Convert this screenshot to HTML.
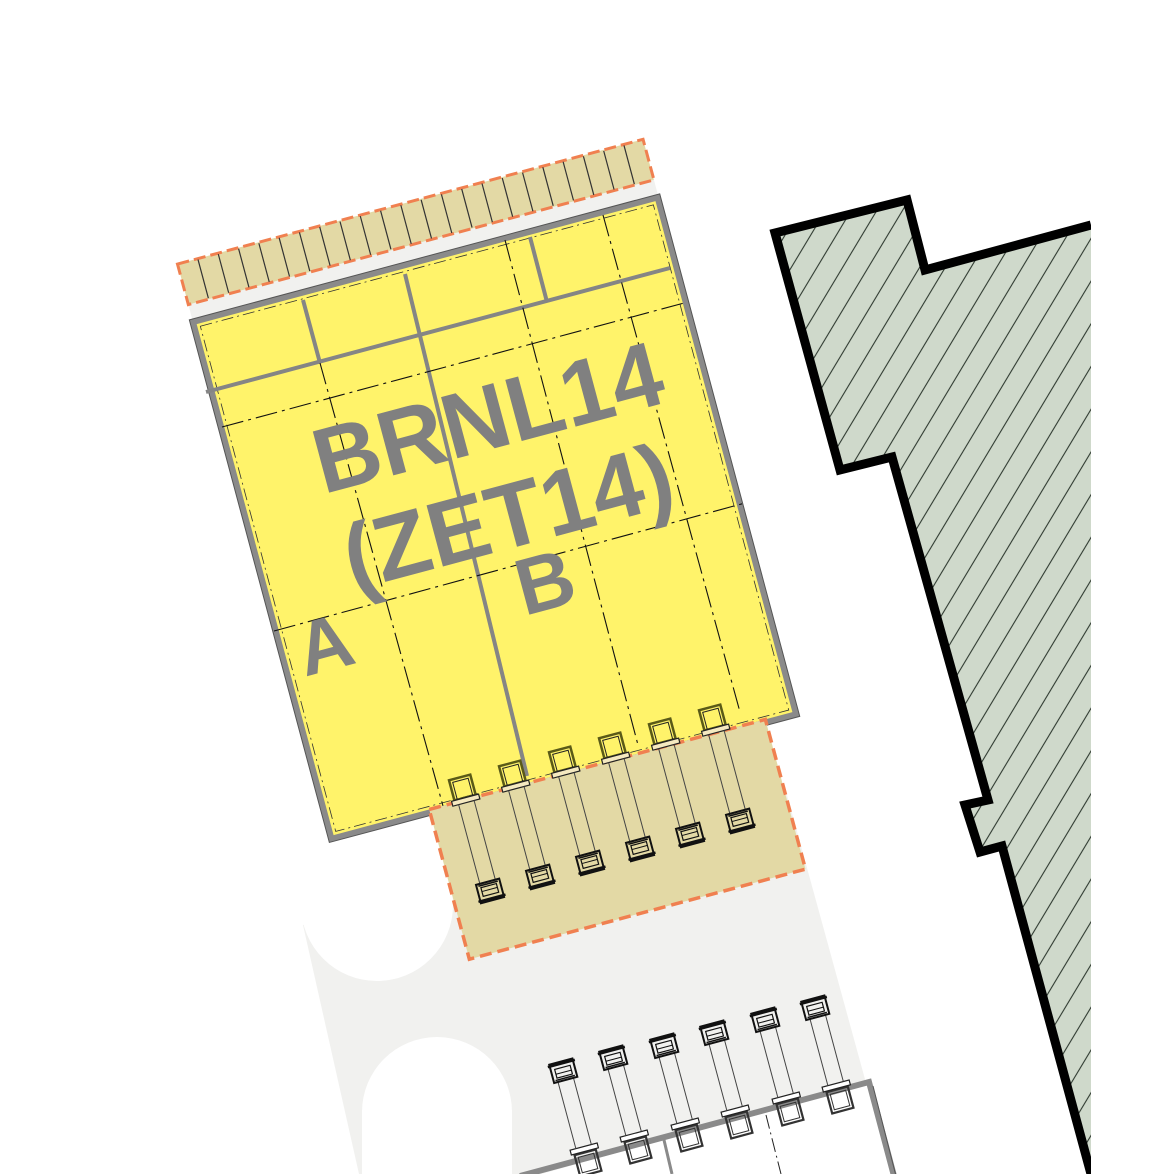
<!DOCTYPE html>
<html><head><meta charset="utf-8"><style>
html,body{margin:0;padding:0;background:#fff;}
svg{display:block;}
</style></head><body>
<svg width="1165" height="1174" viewBox="0 0 1165 1174" xmlns="http://www.w3.org/2000/svg">
<defs>
<pattern id="hatch" patternUnits="userSpaceOnUse" width="22" height="22" patternTransform="rotate(31)">
<rect width="22" height="22" fill="#cfd9cb"/>
<line x1="2" y1="0" x2="2" y2="22" stroke="#2f3a30" stroke-width="1.1"/>
</pattern>
<g id="cab" fill="none" stroke="#111">
<rect x="-12" y="0" width="24" height="19" stroke-width="2"/>
<rect x="-8" y="4" width="16" height="9" stroke-width="1.2"/>
<line x1="-8" y1="8" x2="8" y2="8" stroke-width="1"/>
<line x1="-14" y1="17" x2="14" y2="17" stroke-width="2.5"/>
<line x1="-10" y1="2" x2="10" y2="2" stroke-width="1.5"/>
</g>
<g id="utruck" fill="none" stroke="#2a2a10">
<rect x="-11" y="-13" width="22" height="21" stroke="#5a5a18" stroke-width="2.5"/>
<rect x="-8" y="-10" width="16" height="18" stroke="#222" stroke-width="1"/>
<rect x="-14" y="8" width="28" height="5" fill="#f5e9c0" stroke="#222" stroke-width="1.2"/>
<line x1="-8" y1="13" x2="-8" y2="96" stroke="#444" stroke-width="1"/>
<line x1="8" y1="13" x2="8" y2="96" stroke="#444" stroke-width="1"/>
<use href="#cab" transform="translate(0,95)"/>
</g>
<g id="ltruck" fill="none" stroke="#222">
<rect x="-11" y="-11" width="22" height="22" stroke="#333" stroke-width="2.2"/>
<rect x="-8" y="-8" width="16" height="16" stroke="#333" stroke-width="1"/>
<rect x="-14" y="-17" width="28" height="5" fill="#fff" stroke="#222" stroke-width="1.2"/>
<line x1="-8" y1="-17" x2="-8" y2="-86" stroke="#444" stroke-width="1"/>
<line x1="8" y1="-17" x2="8" y2="-86" stroke="#444" stroke-width="1"/>
<use href="#cab" transform="translate(0,-86) rotate(180)"/>
</g>
</defs>

<polygon points="303,925 787,795 891,1174 359,1174" fill="#f1f1ef"/>
<circle cx="377" cy="905" r="76" fill="#fff"/>
<circle cx="437" cy="1112" r="75" fill="#fff"/>
<rect x="362" y="1110" width="150" height="70" fill="#fff"/>

<polygon points="520,1180 869,1082 896,1180" fill="#fff"/>
<polyline points="520,1176 869,1082 894,1176" fill="none" stroke="#8a8a8a" stroke-width="6"/>
<polyline points="873,1086 896,1176" fill="none" stroke="#555" stroke-width="1"/>
<line x1="664" y1="1140" x2="672" y2="1174" stroke="#8a8a8a" stroke-width="3"/>
<line x1="766" y1="1115" x2="781" y2="1174" stroke="#222" stroke-width="1" stroke-dasharray="14,4,2,4"/>

<path d="M1091,1174 L1002,846 L980,852 L965,805 L988,800 L892,457 L840,470 L775,233 L907,200 L925,270 L1091,225" fill="url(#hatch)" stroke="#000" stroke-width="9" stroke-linejoin="miter"/>
<rect x="1091" y="150" width="80" height="1030" fill="#fff"/>

<g transform="translate(193,322) rotate(-15)">
<rect x="0" y="-18" width="482" height="18" fill="#f1f1ef"/>
<rect x="0" y="-60" width="482" height="42" fill="#e3d9a5" stroke="#f08050" stroke-width="3" stroke-dasharray="12,5"/>
<g stroke="#333" stroke-width="1.2">
<line x1="21" y1="-59" x2="21" y2="-19"/><line x1="42" y1="-59" x2="42" y2="-19"/><line x1="63" y1="-59" x2="63" y2="-19"/><line x1="84" y1="-59" x2="84" y2="-19"/><line x1="105" y1="-59" x2="105" y2="-19"/><line x1="126" y1="-59" x2="126" y2="-19"/><line x1="147" y1="-59" x2="147" y2="-19"/><line x1="168" y1="-59" x2="168" y2="-19"/><line x1="189" y1="-59" x2="189" y2="-19"/><line x1="210" y1="-59" x2="210" y2="-19"/><line x1="231" y1="-59" x2="231" y2="-19"/><line x1="252" y1="-59" x2="252" y2="-19"/><line x1="273" y1="-59" x2="273" y2="-19"/><line x1="294" y1="-59" x2="294" y2="-19"/><line x1="315" y1="-59" x2="315" y2="-19"/><line x1="336" y1="-59" x2="336" y2="-19"/><line x1="357" y1="-59" x2="357" y2="-19"/><line x1="378" y1="-59" x2="378" y2="-19"/><line x1="399" y1="-59" x2="399" y2="-19"/><line x1="420" y1="-59" x2="420" y2="-19"/><line x1="441" y1="-59" x2="441" y2="-19"/><line x1="462" y1="-59" x2="462" y2="-19"/>
</g>
<rect x="0" y="0" width="481" height="535" fill="#fff36a" stroke="#8a8a8a" stroke-width="6"/>
<rect x="-3" y="-3" width="487" height="541" fill="none" stroke="#555" stroke-width="1"/>
<rect x="6" y="6" width="469" height="523" fill="none" stroke="#333" stroke-width="0.8" stroke-dasharray="12,4,2,4"/>
</g>

<g stroke="#858585" stroke-width="4" fill="none">
<line x1="206" y1="392" x2="670" y2="268"/>
<line x1="303" y1="300" x2="320" y2="363"/>
<line x1="530" y1="237" x2="547" y2="302"/>
<line x1="405" y1="274" x2="527" y2="776"/>
</g>
<g stroke="#111" stroke-width="1.1" fill="none" stroke-dasharray="22,5,3,5">
<line x1="222" y1="427" x2="684" y2="303"/>
<line x1="274" y1="631" x2="745" y2="503"/>
<line x1="320" y1="363" x2="443" y2="806"/>
<line x1="505" y1="240" x2="638" y2="745"/>
<line x1="603" y1="215" x2="740" y2="712"/>
</g>

<g transform="translate(193,322) rotate(-15)">
<rect x="102" y="532" width="348" height="155" fill="#e3d9a5" stroke="#f08050" stroke-width="3.5" stroke-dasharray="12,6"/>
</g>

<use href="#utruck" transform="translate(463,790) rotate(-15)"/>
<use href="#utruck" transform="translate(513,776) rotate(-15)"/>
<use href="#utruck" transform="translate(563,762) rotate(-15)"/>
<use href="#utruck" transform="translate(613,748) rotate(-15)"/>
<use href="#utruck" transform="translate(663,734) rotate(-15)"/>
<use href="#utruck" transform="translate(713,720) rotate(-15)"/>

<use href="#ltruck" transform="translate(588,1163) rotate(-15)"/>
<use href="#ltruck" transform="translate(638,1150) rotate(-15)"/>
<use href="#ltruck" transform="translate(689,1138) rotate(-15)"/>
<use href="#ltruck" transform="translate(739,1125) rotate(-15)"/>
<use href="#ltruck" transform="translate(790,1112) rotate(-15)"/>
<use href="#ltruck" transform="translate(840,1100) rotate(-15)"/>

<g fill="#808080" font-family="Liberation Sans, sans-serif" font-weight="bold" text-anchor="middle" dominant-baseline="central">
<text transform="translate(488,418) rotate(-15)" font-size="92">BRNL14</text>
<text transform="translate(508,517) rotate(-15)" font-size="92">(ZET14)</text>
<text transform="translate(545,582) rotate(-15)" font-size="80">B</text>
<text transform="translate(325,645) rotate(-15)" font-size="76">A</text>
</g>
</svg>
</body></html>
